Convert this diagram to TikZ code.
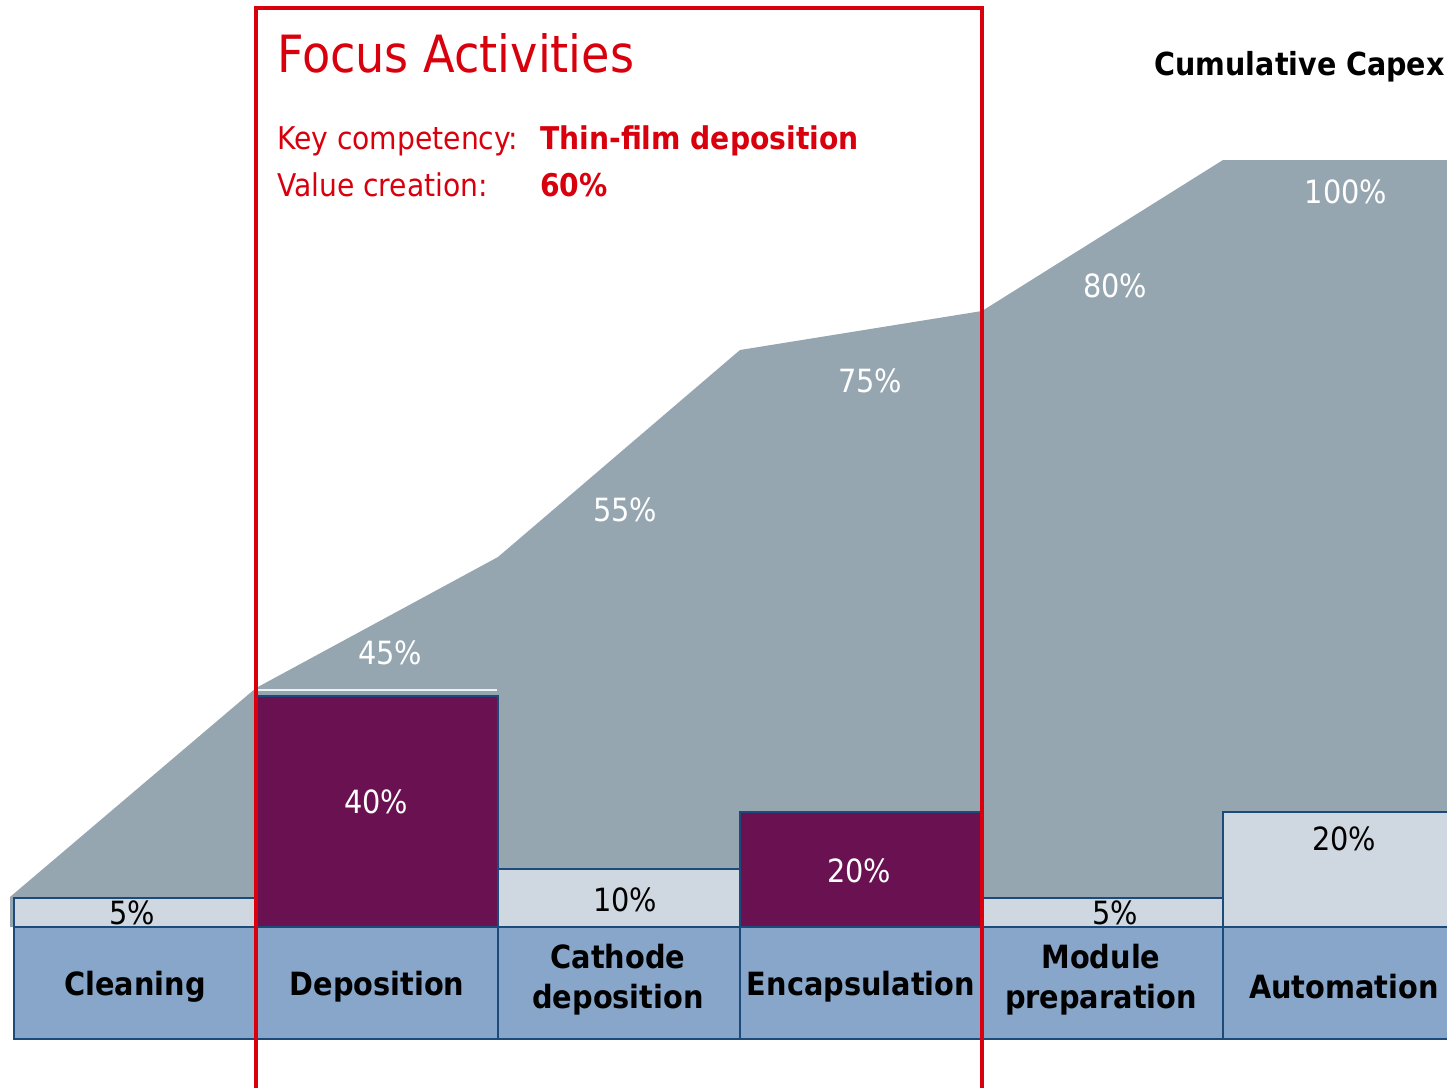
\documentclass[tikz,border=0pt]{standalone}
\usepackage{fontspec}
\setmainfont{DejaVu Sans Condensed}[BoldFont={DejaVu Sans Condensed Bold}]
\definecolor{areagray}{HTML}{95A6B0}
\definecolor{barlight}{HTML}{CFD8E0}
\definecolor{labblue}{HTML}{87A6C9}
\definecolor{barpurple}{HTML}{6A1251}
\definecolor{edgeblue}{HTML}{1C4A7A}
\definecolor{focusred}{HTML}{D9000D}
\tikzset{
  lab/.style={font=\fontsize{24}{30}\selectfont\bfseries, align=center, text=black, inner sep=0pt},
  pct/.style={font=\fontsize{24}{26}\selectfont, inner sep=0pt},
  cell/.style={draw=edgeblue, line width=1.4pt},
  redtxt/.style={anchor=base west, inner sep=0pt, text=focusred, font=\fontsize{23.5}{26}\selectfont},
}
\begin{document}
\begin{tikzpicture}[x=0.75pt,y=-0.75pt]
\useasboundingbox (0,0) rectangle (1447,1088);
% cumulative area
\fill[areagray] (10,897) -- (256,688) -- (498,557) -- (740,350) -- (982,311) -- (1223,160) -- (1447,160) -- (1447,927) -- (10,927) -- cycle;
\draw[white!85!areagray, line width=1.2pt] (258,690) -- (497,690);
% bars
\filldraw[cell, fill=barlight] (14,898) rectangle (256,927);
\filldraw[cell, fill=barpurple] (256,696) rectangle (498,927);
\filldraw[cell, fill=barlight] (498,869) rectangle (740,927);
\filldraw[cell, fill=barpurple] (740,812) rectangle (982,927);
\filldraw[cell, fill=barlight] (982,898) rectangle (1223,927);
\filldraw[cell, fill=barlight] (1223,812) rectangle (1460,927);
% label row
\filldraw[cell, fill=labblue] (14,927) rectangle (256,1039);
\filldraw[cell, fill=labblue] (256,927) rectangle (498,1039);
\filldraw[cell, fill=labblue] (498,927) rectangle (740,1039);
\filldraw[cell, fill=labblue] (740,927) rectangle (982,1039);
\filldraw[cell, fill=labblue] (982,927) rectangle (1223,1039);
\filldraw[cell, fill=labblue] (1223,927) rectangle (1460,1039);
\node[lab] (l1) at (135,987) {Cleaning};
\node[lab] (l2) at (377,987) {Deposition};
\node[lab] (l3) at (618,980) {Cathode\\deposition};
\node[lab] (l4) at (861,987) {Encapsulation};
\node[lab] (l5) at (1101,980) {Module\\preparation};
\node[lab] (l6) at (1344,987) {Automation};
% bar percentages
\node[pct] (b1) at (132,913) {5\%};
\node[pct, text=white] (b2) at (376,802) {40\%};
\node[pct] (b3) at (625,900) {10\%};
\node[pct, text=white] (b4) at (859,871) {20\%};
\node[pct] (b5) at (1115,913) {5\%};
\node[pct] (b6) at (1344,839) {20\%};
% cumulative percentages
\node[pct, text=white] (c1) at (390,653) {45\%};
\node[pct, text=white] (c2) at (625,510) {55\%};
\node[pct, text=white] (c3) at (870,381) {75\%};
\node[pct, text=white] (c4) at (1115,286) {80\%};
\node[pct, text=white] (c5) at (1346,192) {100\%};
% focus box
\draw[focusred, line width=2.3pt] (256,1088) -- (256,8) -- (982,8) -- (982,1088);
\node[redtxt, font=\fontsize{38.5}{42}\selectfont] (fa) at (277,73) {Focus Activities};
\node[redtxt] (kc) at (277,149) {Key competency:};
\node[redtxt, font=\fontsize{23.5}{26}\selectfont\bfseries] (kv) at (540,149) {Thin-film deposition};
\node[redtxt] (vc) at (277,196) {Value creation:};
\node[redtxt, font=\fontsize{23.5}{26}\selectfont\bfseries] (vv) at (540,196) {60\%};
\node[anchor=base east, inner sep=0pt, font=\fontsize{23.8}{26}\selectfont\bfseries] (cc) at (1445,76) {Cumulative Capex};
\end{tikzpicture}
\end{document}
